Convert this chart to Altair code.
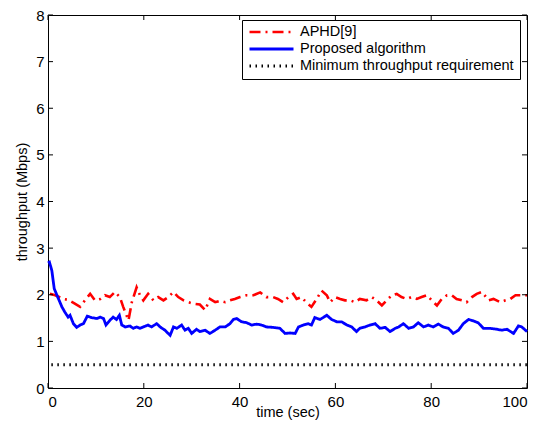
import altair as alt
import pandas as pd

series_names = ["APHD[9]", "Proposed algorithm", "Minimum throughput requirement"]
series_colors = ["#ff0000", "#0000ff", "#000000"]

time_aphd = [0.4, 1.5, 3.2, 4.2, 5.6, 6.7, 7.7, 8.8, 9.8, 10.9,
             11.9, 12.9, 14.0, 15.0, 15.7, 16.8, 17.5, 18.5, 19.2, 19.9,
             20.9, 22.0, 23.0, 24.1, 25.1, 26.2, 27.2, 28.3, 29.3, 30.3,
             31.7, 32.8, 33.8, 34.9, 35.9, 37.0, 38.0, 39.0, 40.1, 41.5,
             42.9, 44.3, 45.6, 47.0, 48.0, 49.1, 50.2, 51.2, 51.9, 52.9,
             53.9, 55.0, 56.1, 57.1, 58.2, 58.9, 59.9, 61.0, 62.0, 63.1,
             64.1, 65.1, 66.5, 67.6, 68.6, 69.7, 70.7, 71.8, 72.8, 73.8,
             74.9, 75.9, 77.0, 78.0, 79.1, 80.1, 81.2, 82.2, 83.3, 84.3,
             85.3, 86.4, 87.4, 88.5, 89.5, 90.6, 92.0, 93.0, 94.4, 95.5,
             96.5, 97.6, 98.6, 100.0]
thr_aphd = [2.02, 1.99, 1.91, 1.89, 1.81, 1.74, 1.88, 2.02, 1.88, 1.91,
            1.99, 1.95, 2.06, 1.95, 1.74, 1.45, 1.84, 2.16, 1.99, 1.88,
            2.02, 1.88, 1.95, 1.88, 1.95, 2.06, 1.95, 1.88, 1.84, 1.81,
            1.79, 1.67, 1.91, 1.84, 1.87, 1.84, 1.88, 1.91, 1.95, 1.99,
            1.99, 2.05, 1.95, 1.95, 1.91, 1.84, 1.95, 2.02, 1.91, 1.95,
            1.84, 1.74, 1.91, 2.09, 1.99, 1.84, 1.95, 1.91, 1.88, 1.88,
            1.84, 1.91, 1.88, 1.95, 1.88, 1.77, 1.88, 1.99, 2.02, 1.95,
            1.91, 1.95, 1.91, 1.95, 1.99, 1.88, 1.77, 1.91, 1.99, 1.99,
            1.91, 1.88, 1.84, 1.95, 2.02, 2.06, 1.88, 1.91, 1.84, 1.88,
            1.91, 1.99, 1.99, 1.99]

time_prop = [0.0, 0.3, 0.8, 1.3, 2.2, 2.9, 3.5, 4.2, 4.6, 5.3,
             6.0, 6.7, 7.4, 8.2, 9.1, 10.2, 10.9, 11.6, 12.1, 12.9,
             13.6, 14.3, 14.9, 15.4, 16.1, 17.1, 17.8, 18.5, 19.2, 19.9,
             20.9, 21.6, 22.7, 23.4, 24.4, 25.5, 26.2, 26.9, 27.9, 28.6,
             29.3, 30.0, 31.0, 31.7, 32.8, 33.8, 34.9, 35.9, 37.0, 38.0,
             38.7, 39.4, 40.4, 41.5, 42.5, 43.6, 44.6, 45.6, 47.0, 48.4,
             49.5, 50.5, 51.6, 52.3, 53.3, 54.3, 55.0, 55.7, 56.8, 58.2,
             59.2, 60.3, 61.3, 62.4, 63.4, 64.4, 65.1, 66.2, 67.2, 68.3,
             69.3, 70.4, 71.4, 72.5, 73.2, 74.2, 75.3, 76.3, 77.3, 78.4,
             79.4, 80.4, 81.5, 82.5, 83.6, 84.6, 85.7, 86.7, 87.8, 88.8,
             89.8, 90.9, 92.3, 93.7, 94.7, 95.8, 97.2, 98.2, 98.9, 100.0]
thr_prop = [2.68, 2.70, 2.52, 2.13, 1.91, 1.74, 1.63, 1.52, 1.56, 1.38,
            1.30, 1.35, 1.38, 1.54, 1.51, 1.49, 1.52, 1.49, 1.35, 1.45,
            1.52, 1.47, 1.56, 1.35, 1.31, 1.33, 1.28, 1.31, 1.28, 1.31,
            1.35, 1.31, 1.38, 1.31, 1.24, 1.13, 1.31, 1.28, 1.35, 1.24,
            1.28, 1.17, 1.26, 1.21, 1.24, 1.17, 1.24, 1.31, 1.31, 1.38,
            1.47, 1.49, 1.42, 1.40, 1.35, 1.37, 1.35, 1.31, 1.30, 1.28,
            1.17, 1.18, 1.17, 1.31, 1.35, 1.38, 1.35, 1.51, 1.47, 1.56,
            1.47, 1.42, 1.42, 1.35, 1.31, 1.21, 1.28, 1.31, 1.35, 1.38,
            1.28, 1.30, 1.21, 1.28, 1.31, 1.38, 1.28, 1.31, 1.40, 1.31,
            1.35, 1.31, 1.37, 1.31, 1.28, 1.17, 1.24, 1.38, 1.47, 1.44,
            1.40, 1.28, 1.28, 1.26, 1.24, 1.26, 1.17, 1.33, 1.31, 1.21]

time_min = [0.7, 100.0]
thr_min = [0.5, 0.5]

x_ticks = [0, 20, 40, 60, 80, 100]
y_ticks = [0, 1, 2, 3, 4, 5, 6, 7, 8]

W, H = 479, 373
TICK = 5

frames = []
for name, t, v in [(series_names[0], time_aphd, thr_aphd),
                   (series_names[1], time_prop, thr_prop),
                   (series_names[2], time_min, thr_min)]:
    frames.append(pd.DataFrame({"series": name, "time": t, "throughput": v}))
df = pd.concat(frames, ignore_index=True)
df_xt = pd.DataFrame({"time": x_ticks})
df_yt = pd.DataFrame({"throughput": y_ticks})

xscale = alt.Scale(domain=[0, 100], nice=False, zero=False)
yscale = alt.Scale(domain=[0, 8], nice=False)

label_style = dict(labelFont="Liberation Sans", labelFontSize=15, labelColor="#000000",
                   titleFont="Liberation Sans", titleFontSize=14.5,
                   titleFontWeight="normal", titleColor="#000000",
                   ticks=False, domain=False, grid=False)

x_axis = alt.Axis(orient="bottom", values=x_ticks, title="time (sec)",
                  labelPadding=6, titleY=28, titleBaseline="alphabetic", **label_style)
y_axis = alt.Axis(orient="left", values=y_ticks, title="throughput (Mbps)",
                  labelPadding=4, titlePadding=6, **label_style)

lines = alt.Chart(df).mark_line().encode(
    x=alt.X("time:Q", scale=xscale, axis=x_axis),
    y=alt.Y("throughput:Q", scale=yscale, axis=y_axis),
    color=alt.Color("series:N",
                    scale=alt.Scale(domain=series_names, range=series_colors),
                    legend=alt.Legend(title=None, orient="none", legendX=194, legendY=5)),
    strokeDash=alt.StrokeDash("series:N",
                              scale=alt.Scale(domain=series_names,
                                              range=[[11, 5, 2, 5], [1, 0], [1.5, 4.5]]),
                              legend=alt.Legend(title=None, orient="none", legendX=194, legendY=5)),
    strokeWidth=alt.StrokeWidth("series:N",
                                scale=alt.Scale(domain=series_names, range=[2.6, 3, 2]),
                                legend=None),
)

tick_bottom = alt.Chart(df_xt).mark_rule(color="#000000", strokeWidth=1).encode(
    x=alt.X("time:Q", scale=xscale, axis=x_axis),
    y=alt.value(H), y2=alt.value(H - TICK))
tick_top = alt.Chart(df_xt).mark_rule(color="#000000", strokeWidth=1).encode(
    x=alt.X("time:Q", scale=xscale, axis=x_axis),
    y=alt.value(0), y2=alt.value(TICK))
tick_left = alt.Chart(df_yt).mark_rule(color="#000000", strokeWidth=1).encode(
    y=alt.Y("throughput:Q", scale=yscale, axis=y_axis),
    x=alt.value(0), x2=alt.value(TICK))
tick_right = alt.Chart(df_yt).mark_rule(color="#000000", strokeWidth=1).encode(
    y=alt.Y("throughput:Q", scale=yscale, axis=y_axis),
    x=alt.value(W), x2=alt.value(W - TICK))

chart = alt.layer(lines, tick_bottom, tick_top, tick_left, tick_right).properties(
    width=W, height=H,
    autosize=alt.AutoSizeParams(type="none"),
    padding={"left": 40, "top": 7, "right": 10, "bottom": 32},
    background="#ffffff",
).configure_view(
    stroke="#000000", strokeWidth=1
).configure_legend(
    symbolType="stroke", symbolSize=1936, symbolStrokeWidth=2.6,
    labelFont="Liberation Sans", labelFontSize=14.5, labelColor="#000000",
    labelOffset=5, clipHeight=12, rowPadding=2, padding=6,
    strokeColor="#000000", fillColor="#ffffff", cornerRadius=0,
    labelLimit=400,
)

chart.save("out.html", embed_options={"renderer": "svg", "actions": False})
